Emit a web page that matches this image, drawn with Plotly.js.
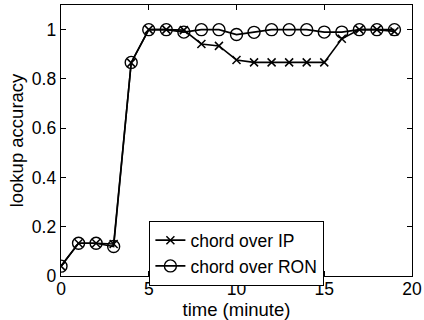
<!DOCTYPE html>
<html><head><meta charset="utf-8">
<script src="https://cdn.plot.ly/plotly-3.0.1.min.js"></script>
<style>html,body{margin:0;padding:0;background:#fff}#c{width:424px;height:320px}</style>
</head><body><div id="c"></div>
<script>
const times = [0,1,2,3,4,5,6,7,8,9,10,11,12,13,14,15,16,17,18,19];
const chordOverIP = [0.04,0.133,0.133,0.13,0.865,1.0,1.0,0.998,0.942,0.934,0.877,0.867,0.867,0.867,0.867,0.867,0.963,1.0,1.0,0.993];
const chordOverRON = [0.04,0.133,0.133,0.12,0.867,1.0,1.0,0.99,1.0,1.0,0.98,0.989,1.0,1.0,1.0,0.99,0.99,1.0,1.0,1.0];
const seriesNames = ['chord over IP','chord over RON'];
const xTicks = [0,5,10,15,20];
const yTicks = [0,0.2,0.4,0.6,0.8,1];
const yTickText = ['0','0.2','0.4','0.6','0.8','1'];

const font = {family:'Liberation Sans, Arial, sans-serif', color:'#000'};
const traces = [
  {x:times, y:chordOverIP, name:seriesNames[0], mode:'lines+markers', type:'scatter',
   line:{color:'#000', width:1.6},
   marker:{symbol:'x-thin-open', size:8, color:'#000', line:{color:'#000', width:1.5}}},
  {x:times, y:chordOverRON, name:seriesNames[1], mode:'lines+markers', type:'scatter',
   line:{color:'#000', width:1.6},
   marker:{symbol:'circle-open', size:12, color:'#000', line:{color:'#000', width:1.4}}}
];
const axisCommon = {showgrid:false, zeroline:false, showline:true, linecolor:'#000', linewidth:1.3,
  mirror:'ticks', ticks:'inside', ticklen:5, tickcolor:'#000', tickwidth:1,
  tickfont:Object.assign({size:17.5}, font)};
const layout = {
  width:424, height:320,
  margin:{l:61, r:12, t:5, b:44},
  paper_bgcolor:'#fff', plot_bgcolor:'#fff',
  showlegend:true,
  xaxis:Object.assign({}, axisCommon, {range:[0,20], tickvals:xTicks, ticktext:xTicks.map(String),
    ticklabelstandoff:-3,
    title:{text:'time (minute)', font:Object.assign({size:18.5}, font), standoff:0}}),
  yaxis:Object.assign({}, axisCommon, {range:[0,1.1], tickvals:yTicks, ticktext:yTickText,
    title:{text:'lookup accuracy', font:Object.assign({size:18.5}, font), standoff:3}}),
  legend:{x:0.251, y:0.203, xanchor:'left', yanchor:'top', bgcolor:'#fff',
    bordercolor:'#000', borderwidth:1.3, font:Object.assign({size:17.5}, font),
    tracegroupgap:0, itemwidth:30}
};
Plotly.newPlot('c', traces, layout, {displayModeBar:false, staticPlot:true});
</script></body></html>
